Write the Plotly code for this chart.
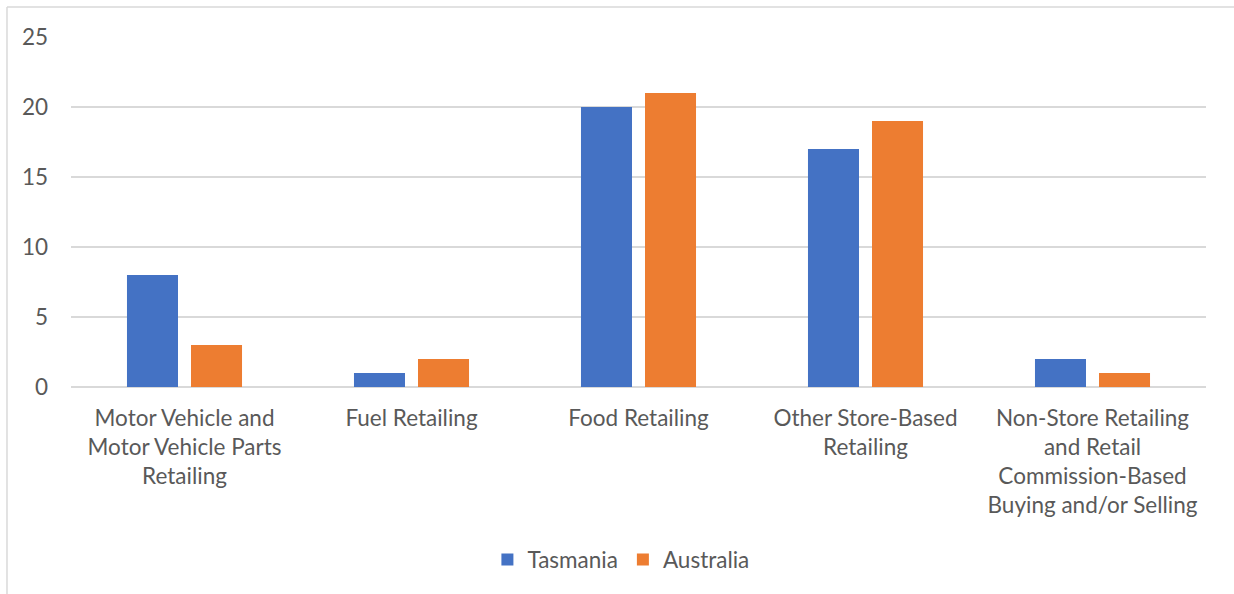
import plotly.graph_objects as go

categories = [
    "Motor Vehicle and<br>Motor Vehicle Parts<br>Retailing",
    "Fuel Retailing",
    "Food Retailing",
    "Other Store-Based<br>Retailing",
    "Non-Store Retailing<br>and Retail<br>Commission-Based<br>Buying and/or Selling",
]
tasmania = [8, 1, 20, 17, 2]
australia = [3, 2, 21, 19, 1]
y_ticks = [0, 5, 10, 15, 20, 25]

FONT = "Lato"
TEXT = "#595959"
GRID = "#d9d9d9"
SIZE = 22.5

fig = go.Figure()
fig.add_trace(go.Bar(name="Tasmania", x=categories, y=tasmania,
                     marker=dict(color="#4472C4", line=dict(width=0))))
fig.add_trace(go.Bar(name="Australia", x=categories, y=australia,
                     marker=dict(color="#ED7D31", line=dict(width=0))))

fig.update_layout(
    width=1234, height=594,
    margin=dict(l=71, r=28, t=37, b=207),
    paper_bgcolor="white", plot_bgcolor="white",
    barmode="group", bargap=0.436, bargroupgap=0.203,
    font=dict(family=FONT, size=SIZE, color=TEXT),
    showlegend=True,
    legend=dict(orientation="h", xref="paper", x=0.4845, xanchor="center",
                yref="paper", y=-0.494, yanchor="middle",
                font=dict(family=FONT, size=SIZE, color=TEXT),
                itemwidth=30, traceorder="normal"),
    xaxis=dict(showgrid=False, showline=False, zeroline=False, ticks="",
               tickfont=dict(family=FONT, size=SIZE, color=TEXT),
               ticklabelstandoff=15, tickangle=0),
    yaxis=dict(range=[0, 25], tickvals=y_ticks, showgrid=True,
               gridcolor=GRID, gridwidth=1.5, zeroline=True,
               zerolinecolor=GRID, zerolinewidth=1.5, showline=False,
               ticks="", ticklabelstandoff=22,
               tickfont=dict(family=FONT, size=SIZE, color=TEXT)),
    shapes=[
        dict(type="line", xref="paper", yref="paper",
             x0=-0.0564, x1=1.05, y0=1.0857, y1=1.0857,
             line=dict(color=GRID, width=1.5)),
        dict(type="line", xref="paper", yref="paper",
             x0=-0.0564, x1=-0.0564, y0=1.0857, y1=-0.7,
             line=dict(color=GRID, width=1.5)),
    ],
)

fig.write_html("out.html")
